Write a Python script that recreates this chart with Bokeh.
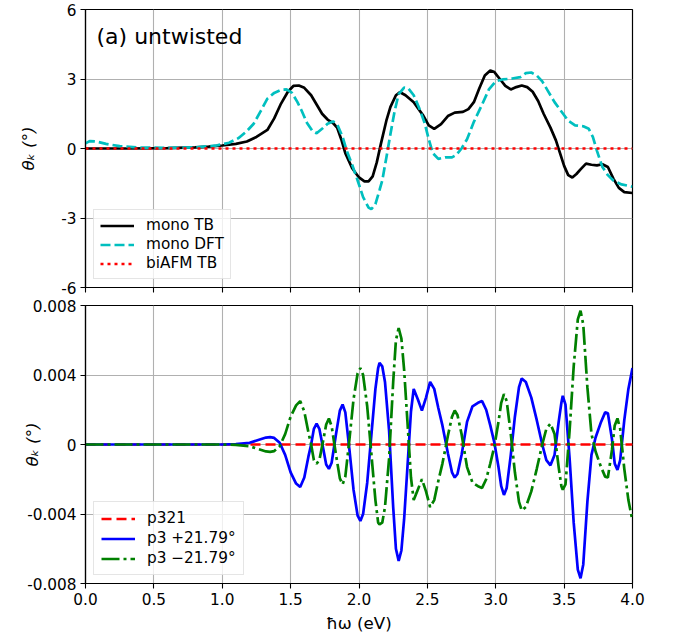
from bokeh.plotting import figure
from bokeh.layouts import column
from bokeh.models import FixedTicker, Label, PrintfTickFormatter
from bokeh.embed import file_html
from bokeh.resources import INLINE

FONT = "DejaVu Sans"

# ---------------- panel (a) untwisted ----------------
tb_x = [0.0, 0.3, 0.6, 0.8, 0.9, 1.0, 1.1, 1.18, 1.25, 1.33, 1.38, 1.43, 1.48, 1.52, 1.56,
        1.60, 1.65, 1.69, 1.73, 1.77, 1.81, 1.84, 1.87, 1.90, 1.95, 2.00, 2.04, 2.07, 2.10,
        2.13, 2.16, 2.20, 2.23, 2.27, 2.30, 2.34, 2.40, 2.47, 2.51, 2.55, 2.60, 2.65, 2.70,
        2.76, 2.80, 2.84, 2.88, 2.92, 2.96, 2.99, 3.03, 3.07, 3.11, 3.15, 3.19, 3.23, 3.27,
        3.31, 3.35, 3.40, 3.44, 3.47, 3.50, 3.53, 3.56, 3.59, 3.62, 3.66, 3.70, 3.74, 3.78,
        3.82, 3.86, 3.90, 3.94, 4.0]
tb_y = [0.0, 0.0, 0.02, 0.05, 0.08, 0.13, 0.2, 0.3, 0.5, 0.8, 1.3, 1.94, 2.45, 2.7, 2.72,
        2.62, 2.3, 1.9, 1.5, 1.25, 1.1, 0.9, 0.4, -0.2, -0.85, -1.25, -1.42, -1.42, -1.2,
        -0.6, 0.2, 1.2, 1.8, 2.3, 2.43, 2.3, 2.0, 1.42, 1.0, 0.85, 1.05, 1.4, 1.55,
        1.58, 1.7, 2.0, 2.6, 3.15, 3.37, 3.3, 3.0, 2.7, 2.55, 2.65, 2.72, 2.65, 2.45,
        2.05, 1.5, 0.9, 0.35, -0.2, -0.75, -1.15, -1.25, -1.1, -0.9, -0.65, -0.7, -0.73, -0.68,
        -0.8, -1.3, -1.7, -1.88, -1.92]

dft_x = [0.0, 0.03, 0.08, 0.15, 0.25, 0.4, 0.6, 0.8, 0.95, 1.05, 1.12, 1.18, 1.23, 1.28,
         1.33, 1.38, 1.43, 1.47, 1.51, 1.55, 1.58, 1.62, 1.66, 1.69, 1.73, 1.77, 1.81, 1.84,
         1.88, 1.91, 1.95, 1.99, 2.03, 2.07, 2.09, 2.12, 2.15, 2.17, 2.20, 2.23, 2.26, 2.29,
         2.33, 2.36, 2.40, 2.44, 2.48, 2.51, 2.54, 2.58, 2.63, 2.68, 2.71, 2.75, 2.79, 2.84,
         2.90, 2.95, 3.0, 3.05, 3.12, 3.18, 3.22, 3.26, 3.30, 3.34, 3.38, 3.43, 3.48, 3.53,
         3.58, 3.64, 3.68, 3.71, 3.74, 3.78, 3.82, 3.86, 3.92, 4.0]
dft_y = [0.22, 0.32, 0.3, 0.2, 0.1, 0.04, 0.03, 0.05, 0.12, 0.25, 0.45, 0.75, 1.07, 1.6,
         2.15, 2.4, 2.53, 2.55, 2.4, 2.0, 1.64, 1.1, 0.75, 0.66, 0.85, 1.07, 1.17, 1.05,
         0.5, -0.09, -0.7, -1.38, -2.1, -2.55, -2.62, -2.4, -1.8, -1.38, -0.4, 0.63, 1.6, 2.35,
         2.63, 2.6, 2.3, 1.75, 1.1, 0.4, -0.2, -0.45, -0.38, -0.38, -0.28, 0.0, 0.4, 1.15,
         1.9, 2.55, 2.9, 2.98, 3.02, 3.08, 3.25, 3.28, 3.15, 2.9, 2.5, 2.0, 1.6, 1.2,
         1.0, 0.96, 0.85, 0.5, -0.1, -0.8, -1.15, -1.38, -1.55, -1.65]

afm_x = [0.0, 4.0]
afm_y = [0.0, 0.0]

# ---------------- panel (b) AFM TBL ----------------
p321_x = [0.0, 4.0]
p321_y = [0.0, 0.0]

p3_x = [0.0, 0.5, 1.0, 1.1, 1.2, 1.28, 1.32, 1.35, 1.38, 1.42, 1.46, 1.50, 1.54, 1.57, 1.60,
        1.63, 1.65, 1.67, 1.69, 1.71, 1.74, 1.76, 1.78, 1.80, 1.83, 1.86, 1.88, 1.90, 1.93,
        1.96, 1.99, 2.01, 2.03, 2.06, 2.09, 2.12, 2.14, 2.15, 2.17, 2.19, 2.22, 2.25, 2.27,
        2.29, 2.31, 2.33, 2.36, 2.38, 2.40, 2.43, 2.46, 2.49, 2.52, 2.55, 2.58, 2.61, 2.65,
        2.68, 2.70, 2.72, 2.75, 2.79, 2.83, 2.87, 2.90, 2.93, 2.96, 2.99, 3.02, 3.04, 3.06,
        3.08, 3.11, 3.14, 3.17, 3.19, 3.22, 3.26, 3.30, 3.34, 3.37, 3.40, 3.43, 3.46, 3.48,
        3.49, 3.51, 3.54, 3.57, 3.60, 3.62, 3.64, 3.67, 3.70, 3.73, 3.77, 3.80, 3.82, 3.85,
        3.87, 3.89, 3.91, 3.94, 3.97, 4.0]

pos_y = [0.0, 0.0, 0.0, 0.00002, 0.0001, 0.0003, 0.0004, 0.00042, 0.00038, 0.0001, -0.0006,
         -0.0016, -0.00225, -0.00245, -0.0019, -0.0007, 0.0, 0.0009, 0.0012, 0.0009, -0.0003,
         -0.00115, -0.0014, -0.00105, 0.0005, 0.00195, 0.0023, 0.00185, -0.0003, -0.0026,
         -0.0041, -0.0044, -0.004, -0.0022, 0.0005, 0.0032, 0.0044, 0.0047, 0.0045, 0.0036,
         0.0008, -0.0036, -0.006, -0.0067, -0.0061, -0.0043, -0.0006, 0.0019, 0.0032, 0.0026,
         0.00195, 0.0027, 0.0036, 0.0032, 0.0021, 0.0011, -0.0005, -0.0016, -0.0019, -0.0017,
         -0.0006, 0.0013, 0.0022, 0.0024, 0.0025, 0.002, 0.0011, 0.0001, -0.0013, -0.0024,
         -0.0029, -0.0025, -0.0006, 0.0016, 0.0033, 0.0038, 0.0036, 0.0027, 0.0014, 0.0,
         -0.0009, -0.0012, -0.0006, 0.0013, 0.0024, 0.0028, 0.0023, -0.0008, -0.0045, -0.0072,
         -0.0077, -0.0069, -0.0033, -0.0006, 0.0004, 0.0013, 0.00185, 0.0018, 0.0003, -0.0011,
         -0.00146, -0.0009, 0.0014, 0.0032, 0.0044]

neg_y = [0.0, 0.0, 0.0, -0.00002, -0.0001, -0.0003, -0.0004, -0.00042, -0.00038, -0.0001,
         0.0006, 0.0016, 0.00225, 0.0025, 0.0019, 0.0007, 0.0, -0.0009, -0.0011, -0.0009,
         0.0003, 0.00115, 0.0015, 0.00105, -0.0005, -0.00195, -0.0023, -0.00185, 0.0003,
         0.0026, 0.0041, 0.0044, 0.004, 0.0022, -0.0005, -0.0032, -0.0045, -0.0046, -0.0045,
         -0.0036, -0.0008, 0.0036, 0.006, 0.0067, 0.0061, 0.0043, 0.0006, -0.0019, -0.0032,
         -0.0026, -0.002, -0.0027, -0.0036, -0.0032, -0.0021, -0.0011, 0.0005, 0.0016,
         0.00196, 0.0017, 0.0006, -0.0013, -0.0022, -0.0024, -0.0025, -0.002, -0.0011,
         -0.0001, 0.0013, 0.0024, 0.0029, 0.0025, 0.0006, -0.0016, -0.0033, -0.0038, -0.0036,
         -0.0027, -0.0014, 0.0, 0.0009, 0.0012, 0.0006, -0.0013, -0.0024, -0.0026, -0.0023,
         0.0008, 0.0045, 0.0072, 0.0077, 0.0069, 0.0033, 0.0006, -0.0004, -0.0013, -0.00185,
         -0.0019, -0.0003, 0.0011, 0.0015, 0.0009, -0.0014, -0.0032, -0.0044]

x_ticks = [0.0, 0.5, 1.0, 1.5, 2.0, 2.5, 3.0, 3.5, 4.0]
a_ticks = [-6, -3, 0, 3, 6]
a_tick_labels = ["-6", "-3", "0", "3", "6"]
b_ticks = [-0.008, -0.004, 0.0, 0.004, 0.008]
b_tick_labels = ["-0.008", "-0.004", "0", "0.004", "0.008"]
y_title = "θₖ (°)"
x_title = "ħω (eV)"

TICK_PX = "15.3px"


def make_fig(height, yrange, yticks, ylabels, border_bottom, show_xlabels, ylab_standoff):
    p = figure(width=673, height=height, x_range=(0, 4), y_range=yrange,
               output_backend="svg", toolbar_location=None,
               min_border_left=85, min_border_right=41, min_border_top=9,
               min_border_bottom=border_bottom)
    p.outline_line_color = "black"
    p.outline_line_width = 1.2
    p.outline_line_alpha = 1.0
    for ax in (p.xaxis[0], p.yaxis[0]):
        ax.axis_line_color = "black"
        ax.axis_line_width = 1.2
        ax.major_tick_in = 0
        ax.major_tick_out = 5
        ax.major_tick_line_color = "black"
        ax.major_tick_line_width = 1.1
        ax.minor_tick_line_color = None
        ax.major_label_text_font = FONT
        ax.major_label_text_font_size = TICK_PX
        ax.major_label_text_color = "black"
        ax.major_label_standoff = 4
    p.xaxis.ticker = FixedTicker(ticks=x_ticks)
    p.xaxis.formatter = PrintfTickFormatter(format="%.1f")
    if not show_xlabels:
        p.xaxis.major_label_overrides = {t: "" for t in x_ticks}
        p.xaxis.major_label_text_font_size = "1px"
        p.xaxis.major_label_standoff = 0
    p.yaxis.ticker = FixedTicker(ticks=yticks)
    p.yaxis.major_label_overrides = {t: l for t, l in zip(yticks, ylabels)}
    p.yaxis.axis_label = y_title
    p.yaxis.axis_label_text_font = FONT
    p.yaxis.axis_label_text_font_size = "16.7px"
    p.yaxis.axis_label_text_font_style = "italic"
    p.yaxis.axis_label_text_color = "black"
    p.yaxis.axis_label_standoff = ylab_standoff
    p.grid.grid_line_color = "#b0b0b0"
    p.grid.grid_line_width = 1.1
    p.grid.grid_line_alpha = 1.0
    return p


def panel_title(p, txt):
    p.add_layout(Label(x=11, y=251, x_units="screen", y_units="screen", text=txt,
                       text_font=FONT, text_font_size="22px", text_color="black",
                       text_baseline="alphabetic", text_align="left"))


def style_legend(p):
    lg = p.legend[0]
    lg.location = "bottom_left"
    lg.margin = 8
    lg.padding = 6
    lg.spacing = 1
    lg.label_height = 15
    lg.glyph_height = 15
    lg.glyph_width = 34
    lg.label_standoff = 12
    lg.label_text_font = FONT
    lg.label_text_font_size = TICK_PX
    lg.label_text_color = "black"
    lg.border_line_color = "#cccccc"
    lg.border_line_width = 1
    lg.background_fill_alpha = 0.8


# ----- top figure -----
pa = make_fig(296, (-6, 6), a_ticks, a_tick_labels, 9, False, 20)
pa.line(tb_x, tb_y, line_color="black", line_width=2.7, legend_label="mono TB")
pa.line(dft_x, dft_y, line_color="#00bfbf", line_width=2.7, line_dash="10 4",
        legend_label="mono DFT")
pa.line(afm_x, afm_y, line_color="#ff0000", line_width=2.7, line_dash="3 4",
        legend_label="biAFM TB")
style_legend(pa)
panel_title(pa, "(a) untwisted")

# ----- bottom figure -----
pb = make_fig(341, (-0.008, 0.008), b_ticks, b_tick_labels, 54, True, -18)
pb.line(p321_x, p321_y, line_color="#ff0000", line_width=2.7, line_dash="10 5",
        legend_label="p321")
pb.line(p3_x, pos_y, line_color="#0000ff", line_width=2.7, legend_label="p3 +21.79°")
pb.line(p3_x, neg_y, line_color="#008000", line_width=2.7, line_dash="18 4 3 4",
        legend_label="p3 −21.79°")
style_legend(pb)
pb.legend[0].spacing = 2
pb.legend[0].padding = 7
pb.xaxis.axis_label = x_title
pb.xaxis.axis_label_text_font = FONT
pb.xaxis.axis_label_text_font_size = "16.7px"
pb.xaxis.axis_label_text_font_style = "normal"
pb.xaxis.axis_label_text_color = "black"
pb.xaxis.axis_label_standoff = 5

layout = column(pa, pb, spacing=0)
open("out.html", "w").write(file_html(layout, INLINE))
